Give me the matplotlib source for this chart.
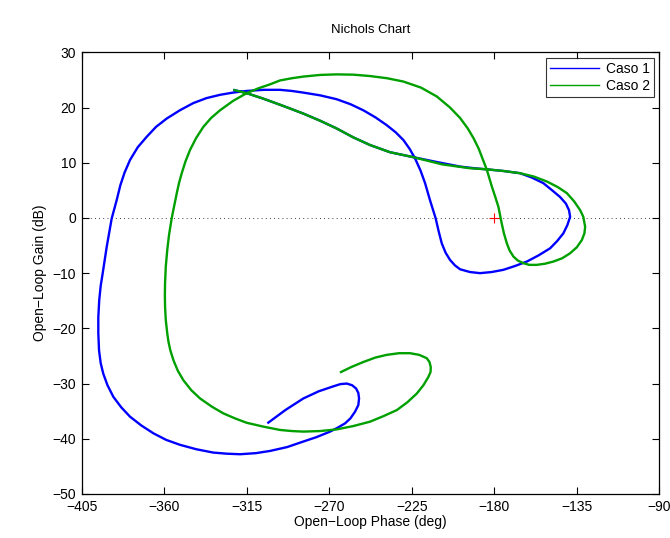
import matplotlib
matplotlib.use("Agg")
import matplotlib.pyplot as plt
from matplotlib.lines import Line2D

plt.rcParams['font.family'] = ['Liberation Sans', 'DejaVu Sans']

# Caso 1 (phase deg, gain dB) in drawing order
caso1_phase = [-303.8, -294.0, -284.2, -275.8, -267.8, -264.0, -260.5, -257.6, -255.4, -254.2,
               -253.8, -254.2, -256.0, -258.5, -261.4, -265.5, -269.6, -277.0, -284.2, -293.0,
               -302.3, -310.0, -318.7, -326.0, -333.3, -342.5, -351.4, -359.0, -366.0, -372.5,
               -378.7, -383.5, -387.8, -391.0, -393.3, -394.7, -395.6, -396.0, -396.0, -395.5,
               -394.7, -393.6, -391.4, -388.7, -386.0, -384.0, -381.7, -378.7, -374.5, -369.6,
               -364.5, -358.7, -351.5, -344.2, -337.0, -329.6, -322.5, -315.1, -306.0, -296.9,
               -290.5, -284.2, -275.0, -266.0, -258.5, -251.5, -244.8, -238.7, -233.8, -229.6,
               -226.2, -223.3, -220.3, -217.8, -215.1, -212.0, -210.4, -208.7, -206.6, -204.2,
               -201.5, -198.7, -193.3, -187.8, -181.5, -175.1, -168.7, -162.3, -156.0, -149.6,
               -145.8, -142.4, -140.2, -138.7, -139.3, -141.0, -144.2, -148.5, -153.3, -159.5,
               -166.0, -175.0, -184.1, -191.0, -198.7, -211.0, -224.2, -236.9, -247.8, -257.0,
               -266.0, -275.0, -284.2, -290.5, -296.9, -306.0, -315.1, -322.4]
caso1_gain = [-37.2, -34.8, -32.7, -31.4, -30.5, -30.1, -30.0, -30.3, -30.9, -31.7,
              -32.7, -33.9, -35.1, -36.3, -37.2, -38.0, -38.7, -39.7, -40.5, -41.5,
              -42.2, -42.6, -42.8, -42.7, -42.5, -41.9, -41.1, -40.2, -39.0, -37.6,
              -36.0, -34.3, -32.4, -30.3, -28.2, -26.3, -24.0, -20.9, -18.0, -14.9,
              -12.3, -10.0, -5.2, -0.1, 3.2, 5.9, 8.2, 10.5, 12.8, 14.7,
              16.5, 18.0, 19.5, 20.8, 21.7, 22.3, 22.7, 23.0, 23.2, 23.2,
              23.0, 22.7, 22.2, 21.5, 20.6, 19.5, 18.2, 16.8, 15.5, 14.1,
              12.5, 10.8, 8.6, 6.3, 3.2, -0.1, -2.4, -4.6, -6.3, -7.6,
              -8.6, -9.3, -9.8, -10.0, -9.8, -9.4, -8.7, -7.9, -6.8, -5.5,
              -4.2, -2.8, -1.3, 0.2, 1.4, 2.6, 3.8, 5.0, 6.3, 7.3,
              8.1, 8.5, 8.8, 9.0, 9.3, 10.1, 11.0, 11.9, 13.2, 14.6,
              16.2, 17.6, 18.9, 19.7, 20.5, 21.6, 22.6, 23.2]

# Caso 2
caso2_phase = [-322.4, -315.1, -306.0, -296.9, -290.5, -284.2, -275.0, -266.0, -257.0, -247.8,
               -236.9, -224.2, -208.5, -193.3, -184.1, -175.0, -166.0, -158.5, -151.4, -145.5,
               -140.5, -136.5, -133.2, -131.5, -130.5, -130.9, -132.3, -135.0, -138.7, -143.0,
               -147.8, -152.5, -156.9, -161.0, -164.2, -167.3, -169.6, -171.7, -173.2, -174.8,
               -176.0, -177.8, -179.6, -181.4, -184.1, -186.3, -188.5, -191.3, -194.5, -198.7,
               -204.2, -211.4, -220.0, -229.6, -238.5, -247.8, -257.0, -266.0, -275.0, -284.2,
               -290.5, -296.9, -302.3, -308.5, -315.1, -322.5, -329.6, -334.5, -338.7, -342.6,
               -346.0, -348.5, -350.5, -352.0, -353.2, -355.1, -356.0, -357.4, -358.4, -359.2,
               -359.6, -359.7, -359.6, -359.2, -358.4, -357.7, -356.7, -355.0, -352.6, -349.6,
               -345.3, -340.5, -334.0, -327.8, -321.5, -315.1, -306.0, -296.9, -290.5, -284.2,
               -275.0, -266.0, -257.0, -247.8, -240.5, -233.2, -227.5, -222.3, -218.7, -216.0,
               -214.8, -214.7, -215.4, -216.9, -221.0, -226.0, -232.0, -238.7, -245.0, -251.5,
               -258.0, -264.2]
caso2_gain = [23.2, 22.6, 21.6, 20.5, 19.7, 18.9, 17.6, 16.2, 14.6, 13.2,
              11.9, 11.0, 9.7, 9.0, 8.8, 8.5, 8.1, 7.5, 6.6, 5.6,
              4.5, 3.0, 1.4, 0.2, -1.6, -2.8, -4.0, -5.3, -6.4, -7.3,
              -7.9, -8.3, -8.5, -8.5, -8.2, -7.7, -7.0, -5.9, -4.6, -2.8,
              -1.0, 2.0, 3.9, 5.7, 8.7, 10.6, 12.5, 14.4, 16.2, 18.1,
              20.0, 22.0, 23.6, 24.7, 25.3, 25.7, 25.95, 26.0, 25.9, 25.6,
              25.3, 24.9, 24.2, 23.5, 22.6, 21.2, 19.5, 18.1, 16.5, 14.5,
              12.3, 10.2, 8.1, 6.3, 4.5, 1.4, -0.1, -3.0, -5.8, -8.8,
              -11.8, -14.0, -16.1, -18.5, -20.9, -22.5, -24.0, -25.8, -27.7, -29.4,
              -31.2, -32.7, -34.2, -35.4, -36.3, -37.1, -37.8, -38.4, -38.6, -38.7,
              -38.6, -38.3, -37.7, -36.9, -35.9, -34.8, -33.4, -31.8, -30.3, -28.8,
              -27.9, -27.0, -26.1, -25.4, -24.8, -24.5, -24.5, -24.8, -25.3, -26.1,
              -27.0, -28.0]

labels = ['Caso 1', 'Caso 2']
xticks = [-405, -360, -315, -270, -225, -180, -135, -90]
yticks = [-50, -40, -30, -20, -10, 0, 10, 20, 30]

fig = plt.figure(figsize=(6.7, 5.38), dpi=100)
ax = fig.add_axes([0.1221, 0.0818, 0.8621, 0.821])

blue = '#0000ff'
green = '#00a000'

ax.plot(caso1_phase, caso1_gain, color=blue, lw=1.7, solid_capstyle='butt', solid_joinstyle='round')
ax.plot(caso2_phase, caso2_gain, color=green, lw=1.7, solid_capstyle='butt', solid_joinstyle='round')

ax.axhline(0, color='black', lw=0.6, ls=(0, (1, 4)), zorder=0.5)
ax.plot([-180], [0], marker='+', color='red', ms=7, mew=0.8, ls='none')

ax.set_xlim(-405, -90)
ax.set_ylim(-50, 30)
ax.set_xticks(xticks)
ax.set_yticks(yticks)
ax.set_xticklabels([str(t).replace('-', '\u2212') for t in xticks])
ax.set_yticklabels([str(t).replace('-', '\u2212') for t in yticks])
ax.tick_params(direction='in', top=True, right=True, length=5, width=0.8, labelsize=10, pad=4)
for s in ax.spines.values():
    s.set_linewidth(0.9)

ax.set_xlabel('Open\u2212Loop Phase (deg)', fontsize=10, labelpad=1)
ax.set_ylabel('Open\u2212Loop Gain (dB)', fontsize=10, labelpad=4)
ax.set_title('Nichols Chart', fontsize=9.5, pad=14)

handles = [Line2D([], [], color=blue, lw=1.0), Line2D([], [], color=green, lw=1.0)]
leg = ax.legend(handles, labels, loc='upper right', fontsize=10, frameon=True, fancybox=False,
                borderaxespad=0.4, handlelength=3.5, borderpad=0.3, labelspacing=0.2, handletextpad=0.5)
leg.get_frame().set_edgecolor('black')
leg.get_frame().set_linewidth(0.8)

fig.savefig('out.png', dpi=100)
